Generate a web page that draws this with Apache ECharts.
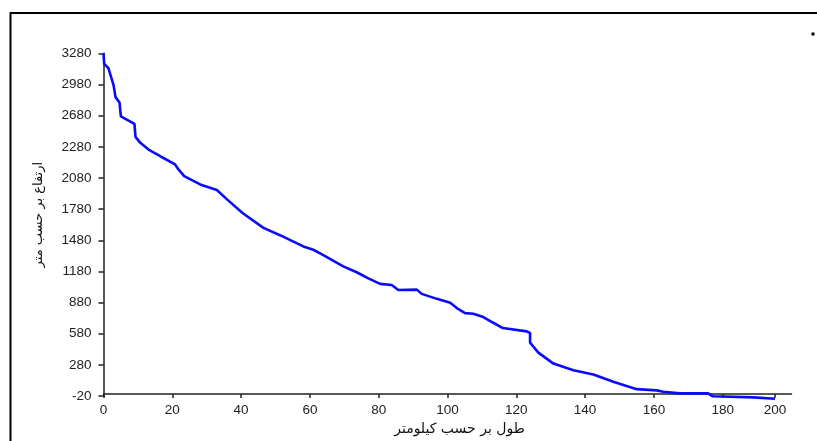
<!DOCTYPE html>
<html>
<head>
<meta charset="utf-8">
<script src="https://cdn.jsdelivr.net/npm/echarts@6/dist/echarts.min.js"></script>
<style>
  html, body { margin: 0; padding: 0; background: #fff; }
  #chart { width: 817px; height: 441px; }
</style>
</head>
<body>
<div id="chart"></div>
<script>
// distance along the river (km) and elevation (m)
const distance = [0, 0.2, 1.45, 2.9, 3.5, 4.65, 5.05, 5.05, 9.0, 9.3, 9.3, 10.7, 13.1, 16.5, 20.8, 21.8,
  23.45, 28.1, 32.95, 35.9, 40.5, 46.5, 51.3, 58.1, 61.0, 63.9, 69.7, 73.6, 77.0, 80.4, 83.8, 85.7,
  91.1, 92.5, 96.9, 100.8, 102.7, 105.1, 107.5, 110.4, 113.3, 116.1, 123.0, 124.0, 124.0, 126.4,
  130.8, 136.6, 142.4, 148.2, 155.0, 160.8, 162.7, 167.6, 175.8, 177.1, 188.9, 195.2]
const elevation = [3280, 3178, 3136, 2976, 2858, 2807, 2794, 2673, 2600, 2590, 2475, 2418, 2353, 2289, 2210, 2162,
  2098, 2018, 1964, 1874, 1740, 1600, 1529, 1421, 1389, 1338, 1229, 1172, 1114, 1060, 1050, 1002,
  1005, 964, 916, 878, 827, 779, 772, 741, 686, 635, 603, 588, 495, 399,
  293, 229, 188, 118, 47, 35, 22, 6, 6, -22, -32, -45]

// tick positions and the labels printed at them
const yTickValues = [-20, 280, 580, 880, 1180, 1480, 1780, 2080, 2380, 2680, 2980, 3280]
const yTickLabels = ['-20', '280', '580', '880', '1180', '1480', '1780', '2080', '2280', '2680', '2980', '3280']
const xTickValues = [0, 20, 40, 60, 80, 100, 120, 140, 160, 180, 195.2]
const xTickLabels = ['0', '20', '40', '60', '80', '100', '120', '140', '160', '180', '200']

const chart = echarts.init(document.getElementById('chart'))

const axisColor = '#222'

const option = {
  backgroundColor: '#fff',
  animation: false,
  grid: {
    left: 103.5,
    right: 25.5,
    top: 53.3,
    bottom: 43.3
  },
  xAxis: {
    type: 'value',
    min: 0,
    max: 200,
    name: 'طول بر حسب کیلومتر',
    nameLocation: 'middle',
    nameGap: 22,
    nameTextStyle: {
      fontFamily: 'DejaVu Sans',
      fontSize: 14,
      color: '#111',
      verticalAlign: 'top',
      padding: [0, 0, 0, 24]
    },
    axisLine: { lineStyle: { color: axisColor, width: 1.5 } },
    axisTick: {
      customValues: xTickValues,
      length: 4,
      lineStyle: { color: axisColor, width: 1.5 }
    },
    axisLabel: {
      customValues: xTickValues,
      margin: 7,
      fontFamily: 'Liberation Sans',
      fontSize: 13.5,
      color: '#222',
      formatter: v => xTickLabels[xTickValues.indexOf(v)]
    },
    splitLine: { show: false }
  },
  yAxis: {
    type: 'value',
    min: -20,
    max: 3280,
    name: 'ارتفاع بر حسب متر',
    nameLocation: 'middle',
    nameGap: 58,
    nameRotate: 90,
    nameTextStyle: {
      fontFamily: 'DejaVu Sans',
      fontSize: 13,
      color: '#111',
      padding: [0, 0, 0, 20]
    },
    axisLine: { show: true, lineStyle: { color: axisColor, width: 1.5 } },
    axisTick: {
      show: true,
      customValues: yTickValues,
      length: 5,
      lineStyle: { color: axisColor, width: 1.5 }
    },
    axisLabel: {
      customValues: yTickValues,
      margin: 12,
      fontFamily: 'Liberation Sans',
      fontSize: 13.5,
      color: '#222',
      formatter: v => yTickLabels[yTickValues.indexOf(v)]
    },
    splitLine: { show: false }
  },
  series: [
    {
      type: 'line',
      data: distance.map((d, i) => [d, elevation[i]]),
      showSymbol: false,
      clip: false,
      lineStyle: { color: '#0a0aff', width: 2.6 },
      z: 1
    }
  ],
  graphic: [
    {
      type: 'rect',
      shape: { x: 10.5, y: 13, width: 900, height: 600 },
      style: { fill: 'none', stroke: '#000', lineWidth: 2 },
      silent: true
    },
    {
      type: 'rect',
      shape: { x: 811.5, y: 32.5, width: 3, height: 3 },
      style: { fill: '#000' },
      silent: true
    }
  ]
}

chart.setOption(option)
</script>
</body>
</html>
